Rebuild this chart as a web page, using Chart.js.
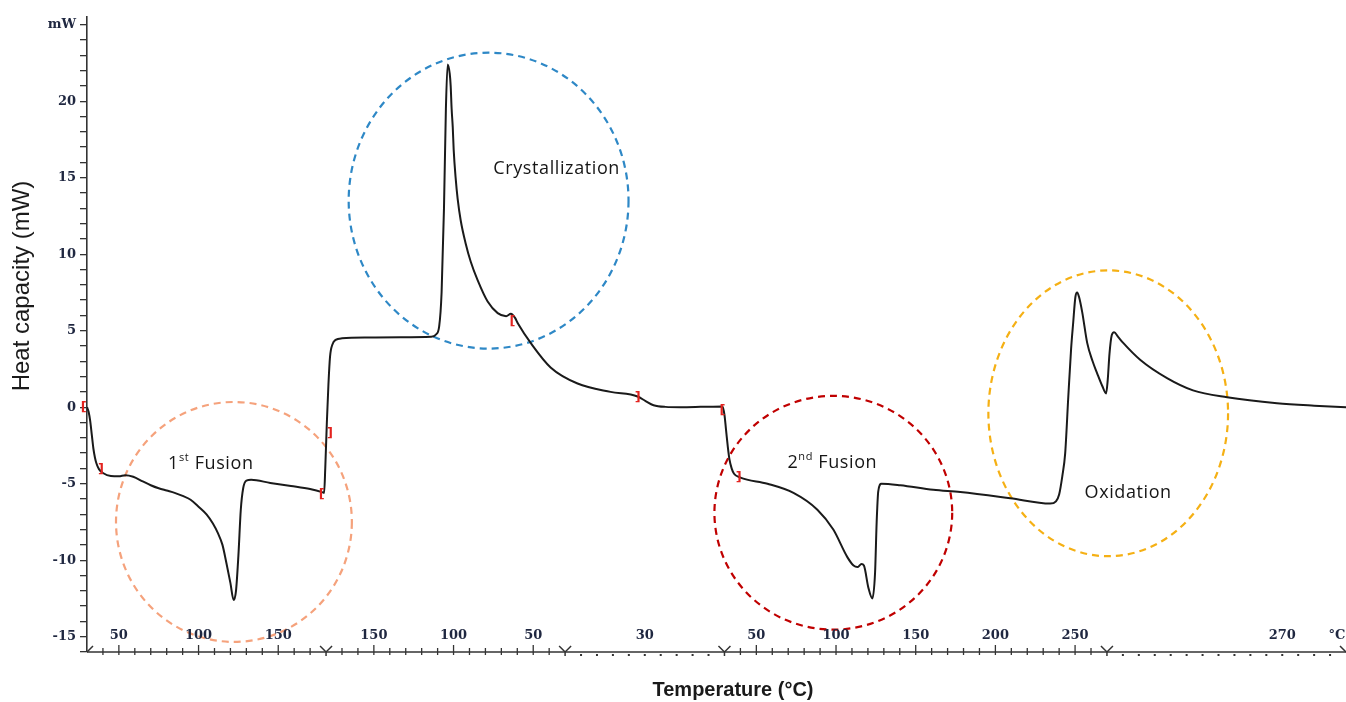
<!DOCTYPE html>
<html>
<head>
<meta charset="utf-8">
<script src="https://cdn.jsdelivr.net/npm/chart.js@4.4.1/dist/chart.umd.min.js"></script>
<style>
  html, body { margin: 0; padding: 0; background: #fff; }
  #wrap { width: 1346px; height: 702px; }
</style>
</head>
<body>
<div id="wrap"><canvas id="dsc"></canvas></div>
<script>
// DSC run, x is elapsed time in minutes (10 K/min), y is heat flow in mW
const timeMin = [
    0, 0.1, 0.2, 0.3, 0.4, 0.5, 0.6, 0.75, 1.0, 1.5, 2.0, 2.4, 2.9, 3.5, 4.0, 4.5, 5.0, 5.5, 6.0, 6.5,
    7.0, 7.5, 7.9, 8.2, 8.5, 8.75, 9.0, 9.2, 9.35, 9.5, 9.65, 9.8, 10.0, 10.3, 11.5, 12.8, 14.0, 14.75, 14.88,
    14.95, 15.05, 15.15, 15.25, 15.4, 15.6, 16.0, 17.8, 19.7, 21.6, 21.9, 22.1, 22.25, 22.4, 22.52, 22.63,
    22.76, 22.82, 22.88, 22.95, 23.01, 23.13, 23.26, 23.45, 23.76, 24.08, 24.51, 25.14, 25.77, 26.3, 26.6,
    26.85, 27.05, 27.84, 29.09, 30.78,
    32.85, 34.55, 35.05, 35.55, 36.3, 37.24, 38.5, 39.87, 40.0, 40.1, 40.2, 40.31, 40.45, 40.6, 41.0, 42.7,
    44.33, 45.83, 46.83, 47.71, 48.1, 48.34, 48.6, 48.75, 49.03, 49.28, 49.45, 49.55, 49.65, 49.85, 51.03,
    53.1, 54.8, 57.93, 60.44, 60.8, 61.0, 61.2, 61.38, 61.57, 61.75, 61.88, 62.02, 62.13, 62.25, 62.45,
    62.76, 63.1, 63.39, 63.7, 63.95, 64.05, 64.16, 64.3, 64.45, 64.7, 65.02, 66.08, 67.77, 69.4, 71.54,
    74.67, 77.0, 79.0
];
const heatFlow = [
    0, -0.3, -0.9, -1.8, -2.7, -3.3, -3.7, -4.05, -4.3, -4.5, -4.52, -4.45, -4.55, -4.85, -5.1, -5.3, -5.45, -5.6, -5.8, -6.05,
    -6.5, -7.0, -7.6, -8.2, -9.0, -10.2, -11.5, -12.6, -12.0, -9.7, -6.7, -5.3, -4.8, -4.75, -4.95, -5.15, -5.35, -5.55, -5.6,
    -4.0, -1.0, 1.5, 3.3, 4.1, 4.4, 4.5, 4.55, 4.57, 4.6, 4.75, 5.3, 7.5, 13, 19.5, 22.4,
    21.8, 21.0, 19.5, 18.3, 16.8, 15.0, 13.6, 12.2, 10.7, 9.5, 8.3, 6.9, 6.15, 5.95, 6.1,
    5.85, 5.45, 4.2, 2.6, 1.55,
    1.0, 0.7, 0.4, 0.13, 0.02, 0.0, 0.02, 0.05, -0.5, -1.5, -2.5, -3.4, -4.0, -4.35, -4.6, -5.0,
    -5.6, -6.7, -8.0, -9.8, -10.35, -10.45, -10.25, -10.35, -11.8, -12.5, -10.8, -7.5, -5.5, -5.0, -5.1,
    -5.4, -5.55, -5.95, -6.3, -6.15, -5.7, -4.5, -3.0, 0.6, 3.8, 5.5, 7.2, 7.5, 7.2, 6.2,
    4.2, 3.0, 2.2, 1.4, 0.9, 1.8, 3.5, 4.7, 4.9, 4.6, 4.2, 3.1, 1.9, 1.1, 0.65,
    0.26, 0.1, 0.0
];

// temperature program: heat, cool, hold, heat, hold
const segStart = [0, 15, 30, 40, 64];
const segEnd = [15, 30, 40, 64, 79];
const segFrom = [30, 180, 30, 30, 270];
const segTo = [180, 30, 30, 270, 270];
const segLabels = [[50, 100, 150], [150, 100, 50], [30], [50, 100, 150, 200, 250], [270]];
const isoLabelTime = [null, null, 35, null, 75];

// dashed rings around the thermal events
const ringCx = [9.22, 25.2, 46.83, 64.08];
const ringCy = [-7.5, 13.5, -6.9, -0.4];
const ringRx = [7.4, 8.78, 7.46, 7.52];
const ringRy = [7.84, 9.67, 7.64, 9.34];
const ringColors = ['#f5a27c', '#2e88c6', '#c00000', '#f5b014'];

const eventText = [['1', 'st', ' Fusion'], ['Crystallization', '', ''], ['2', 'nd', ' Fusion'], ['Oxidation', '', '']];
const eventT = [7.77, 29.47, 46.77, 65.33];
const eventV = [-3.72, 15.6, -3.66, -5.62];

// integration limits
const limitT = [-0.2, 0.88, 15.24, 14.73, 26.7, 34.55, 39.87, 40.9];
const limitV = [0, -4.1, -1.7, -5.7, 5.6, 0.65, -0.2, -4.6];
const limitChar = ['[', ']', ']', '[', '[', ']', '[', ']'];

const tickFont = 'bold 13px "DejaVu Serif"';
const tickColor = '#1f2740';

function segTime(s, T) {
    return segStart[s] + (T - segFrom[s]) / (segTo[s] - segFrom[s]) * (segEnd[s] - segStart[s]);
}

const decorations = {
    id: 'decorations',
    beforeDatasetsDraw(chart) {
        const ctx = chart.ctx;
        const x = chart.scales.x, y = chart.scales.y;
        ctx.save();
        ctx.lineWidth = 2.2;
        ctx.setLineDash([7, 5]);
        for (let i = 0; i < ringCx.length; i++) {
            const cx = x.getPixelForValue(ringCx[i]);
            const cy = y.getPixelForValue(ringCy[i]);
            const rx = x.getPixelForValue(ringCx[i] + ringRx[i]) - cx;
            const ry = cy - y.getPixelForValue(ringCy[i] + ringRy[i]);
            ctx.strokeStyle = ringColors[i];
            ctx.beginPath();
            ctx.ellipse(cx, cy, rx, ry, 0, 0, Math.PI * 2);
            ctx.stroke();
        }
        ctx.restore();
    },
    afterDraw(chart) {
        const ctx = chart.ctx;
        const x = chart.scales.x, y = chart.scales.y;
        const area = chart.chartArea;
        const base = area.bottom;
        ctx.save();

        // time/temperature axis
        ctx.strokeStyle = '#333';
        ctx.fillStyle = '#333';
        ctx.lineWidth = 1.5;
        ctx.beginPath();
        ctx.moveTo(area.left, base);
        ctx.lineTo(area.right, base);
        ctx.stroke();

        ctx.lineWidth = 1.3;
        ctx.font = tickFont;
        ctx.textAlign = 'center';
        ctx.textBaseline = 'middle';
        for (let s = 0; s < segStart.length; s++) {
            if (segFrom[s] !== segTo[s]) {
                const dir = segTo[s] > segFrom[s] ? 10 : -10;
                for (let T = segFrom[s] + dir; T !== segTo[s]; T += dir) {
                    const px = x.getPixelForValue(segTime(s, T));
                    const major = T % 50 === 0;
                    ctx.beginPath();
                    ctx.moveTo(px, base - (major ? 7 : 4));
                    ctx.lineTo(px, base + 3);
                    ctx.stroke();
                }
                segLabels[s].forEach(T => {
                    ctx.fillStyle = tickColor;
                    ctx.fillText(String(T), x.getPixelForValue(segTime(s, T)), base - 16);
                });
            } else {
                ctx.fillStyle = '#333';
                for (let t = segStart[s] + 1; t < segEnd[s]; t++) {
                    ctx.fillRect(x.getPixelForValue(t) - 1, base + 2, 2, 2);
                }
                ctx.fillStyle = tickColor;
                ctx.fillText(String(segLabels[s][0]), x.getPixelForValue(isoLabelTime[s]), base - 16);
            }
        }
        ctx.fillText('°C', area.right - 9, base - 16);

        // segment change markers
        ctx.strokeStyle = '#333';
        ctx.lineWidth = 1.5;
        for (let s = 1; s < segStart.length; s++) {
            const px = x.getPixelForValue(segStart[s]);
            ctx.beginPath();
            ctx.moveTo(px - 6, base - 6);
            ctx.lineTo(px, base);
            ctx.lineTo(px + 6, base - 6);
            ctx.moveTo(px, base);
            ctx.lineTo(px, base + 4);
            ctx.stroke();
        }
        ctx.beginPath();
        ctx.moveTo(area.left, base);
        ctx.lineTo(area.left + 6, base - 6);
        ctx.moveTo(area.right, base);
        ctx.lineTo(area.right - 6, base - 6);
        ctx.stroke();

        // event names
        ctx.fillStyle = '#161616';
        ctx.textAlign = 'left';
        ctx.textBaseline = 'middle';
        ctx.letterSpacing = '0.6px';
        const big = '18px "Open Sans"', small = '11px "Open Sans"';
        for (let i = 0; i < eventText.length; i++) {
            const [a, sup, b] = eventText[i];
            ctx.font = big;
            const wa = ctx.measureText(a).width, wb = ctx.measureText(b).width;
            ctx.font = small;
            const ws = ctx.measureText(sup).width;
            let px = x.getPixelForValue(eventT[i]) - (wa + ws + wb) / 2;
            const py = y.getPixelForValue(eventV[i]);
            ctx.font = big;
            ctx.fillText(a, px, py);
            px += wa;
            ctx.font = small;
            ctx.fillText(sup, px, py - 6);
            px += ws;
            ctx.font = big;
            ctx.fillText(b, px, py);
        }
        ctx.letterSpacing = '0px';

        // integration limit brackets
        ctx.fillStyle = '#e3231f';
        ctx.font = 'bold 13px "DejaVu Sans"';
        ctx.textAlign = 'center';
        for (let i = 0; i < limitT.length; i++) {
            ctx.fillText(limitChar[i], x.getPixelForValue(limitT[i]), y.getPixelForValue(limitV[i]));
        }

        // axis titles
        ctx.fillStyle = '#1a1a1a';
        ctx.font = '24px "Liberation Sans"';
        ctx.save();
        ctx.translate(22, 286);
        ctx.rotate(-Math.PI / 2);
        ctx.fillText('Heat capacity (mW)', 0, 0);
        ctx.restore();
        ctx.font = 'bold 20px "Liberation Sans"';
        ctx.fillText('Temperature (°C)', 733, 690);
        ctx.restore();
    }
};

new Chart(document.getElementById('dsc').getContext('2d'), {
    type: 'line',
    data: {
        datasets: [{
            label: 'Heat flow',
            data: timeMin.map((t, i) => ({x: t, y: heatFlow[i]})),
            borderColor: '#1a1a1a',
            borderWidth: 2,
            pointRadius: 0,
            fill: false,
            cubicInterpolationMode: 'monotone'
        }]
    },
    options: {
        responsive: true,
        maintainAspectRatio: false,
        animation: false,
        layout: {
            padding: {top: 17, bottom: 50, left: 0, right: 0}
        },
        scales: {
            x: {
                type: 'linear',
                min: 0,
                max: 79,
                display: false
            },
            y: {
                min: -16,
                max: 25.5,
                afterBuildTicks: s => {
                    const ticks = [];
                    for (let v = -16; v <= 25; v++) ticks.push({value: v});
                    s.ticks = ticks;
                },
                afterFit: s => {
                    s.width = 87;
                },
                border: {
                    color: '#333',
                    width: 1.6
                },
                grid: {
                    drawOnChartArea: false,
                    tickLength: 7,
                    color: '#333',
                    lineWidth: 1.3
                },
                ticks: {
                    autoSkip: false,
                    padding: 4,
                    color: tickColor,
                    font: {family: 'DejaVu Serif', size: 13, weight: 'bold'},
                    callback: v => v === 25 ? 'mW' : (v % 5 === 0 ? String(v) : '')
                }
            }
        },
        plugins: {
            legend: {display: false},
            tooltip: {enabled: false}
        }
    },
    plugins: [decorations]
});
</script>
</body>
</html>
